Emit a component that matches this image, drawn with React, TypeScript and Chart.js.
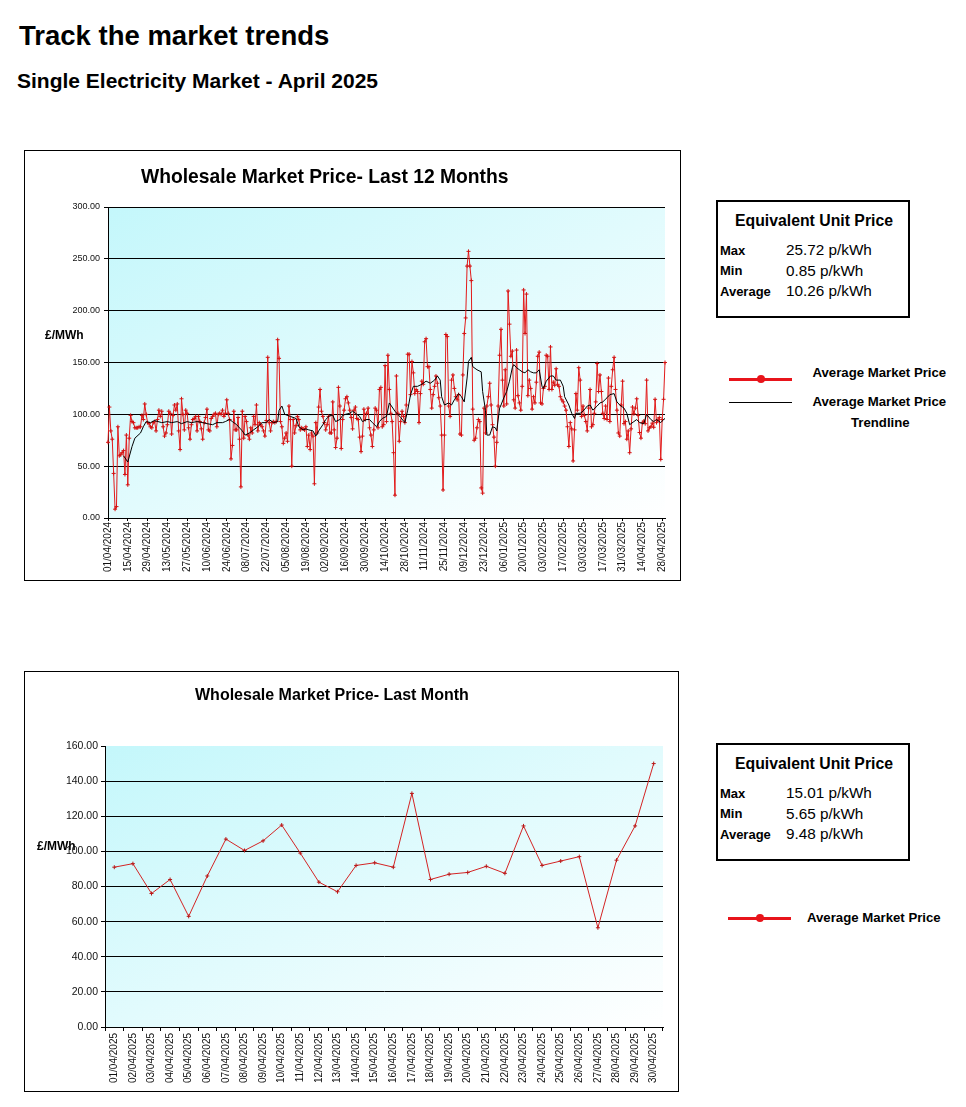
import React, { useEffect, useRef } from 'react';
import { Chart, registerables } from 'chart.js';

Chart.register(...registerables);

const FONT = "'Liberation Sans', Arial, Helvetica, sans-serif";
Chart.defaults.font.family = FONT;

// ---- Daily average market price (£/MWh), 01/04/2024 - 30/04/2025 ----
const apr2024 = [73, 107, 84, 76, 43, 8.5, 11, 88, 60, 61, 63, 65, 42, 80, 32, 77, 99, 93, 92, 87, 87, 87, 88, 88, 99, 95, 110, 100, 92, 91];
const may2024 = [88, 87, 92, 93, 84, 95, 104, 98, 103, 88, 79, 82, 90, 103, 101, 81, 99, 109, 104, 110, 84, 66, 115, 100, 85, 104, 101, 87, 76, 90, 95];
const jun2024 = [96, 98, 84, 98, 93, 86, 76, 92, 97, 105, 85, 84, 96, 98, 100, 101, 88, 100, 101, 100, 104, 98, 101, 114, 101, 95, 57, 70, 103, 85];
const jul2024 = [85, 97, 76, 30, 103, 77, 98, 93, 80, 76, 87, 82, 98, 90, 109, 84, 92, 90, 88, 84, 79, 94, 155, 92, 84, 92, 93, 92, 93, 172, 154];
const aug2024 = [93, 88, 72, 77, 82, 74, 108, 95, 50, 95, 82, 89, 98, 95, 85, 87, 86, 85, 88, 69, 80, 66, 82, 79, 33, 92, 82, 107, 124, 103, 98];
const sep2024 = [92, 85, 90, 98, 82, 82, 112, 85, 68, 77, 126, 108, 67, 95, 104, 115, 117, 111, 104, 97, 86, 104, 107, 96, 95, 78, 64, 79, 105, 95];
const oct2024 = [101, 106, 87, 80, 69, 85, 106, 104, 87, 124, 126, 88, 90, 147, 93, 157, 124, 101, 93, 63, 22, 137, 101, 74, 93, 103, 98, 92, 109, 158, 158];
const nov2024 = [119, 151, 140, 120, 124, 122, 92, 120, 132, 129, 170, 173, 146, 146, 124, 106, 119, 127, 137, 130, 116, 108, 80, 27, 80, 177, 175, 108, 98, 133];
const dec2024 = [138, 125, 117, 114, 119, 81, 80, 138, 178, 193, 243, 257.2, 243, 229, 105, 75, 77, 87, 95, 93, 29, 24, 106, 82, 108, 117, 130, 109, 90, 78, 50];
const jan2025 = [73, 108, 157, 182, 133, 108, 143, 110, 219, 187, 156, 161, 114, 106, 162, 118, 111, 104, 127, 220, 178, 216, 118, 133, 125, 105, 117, 111, 131, 156, 160];
const feb2025 = [111, 110, 125, 127, 157, 156, 124, 165, 124, 131, 128, 144, 129, 127, 117, 114, 112, 108, 104, 88, 69, 92, 86, 55, 85, 120, 104, 145];
const mar2025 = [133, 98, 108, 99, 93, 84, 106, 124, 88, 90, 101, 112, 149, 122, 138, 122, 101, 96, 108, 95, 135, 93, 127, 143, 155, 124, 104, 82, 79, 109, 132];
const apr2025 = [91, 93, 76, 84, 63, 86, 107, 100.5, 106, 115, 99, 82.5, 77, 92, 93.5, 91, 133, 84, 87, 88, 91.5, 87.5, 114.5, 92, 94.5, 97, 56.5, 95, 114.5, 150];

// ---- Trendline ----
const trendDates = [
  '12/04/2024', '15/04/2024', '18/04/2024', '20/04/2024', '24/04/2024', '26/04/2024', '28/04/2024', '01/05/2024', '04/05/2024', '09/05/2024',
  '13/05/2024', '16/05/2024', '20/05/2024', '23/05/2024', '27/05/2024', '30/05/2024', '03/06/2024', '07/06/2024', '10/06/2024', '14/06/2024',
  '17/06/2024', '21/06/2024', '23/06/2024', '26/06/2024', '28/06/2024', '01/07/2024', '05/07/2024', '07/07/2024', '10/07/2024', '12/07/2024',
  '16/07/2024', '19/07/2024', '22/07/2024', '24/07/2024', '27/07/2024', '30/07/2024', '31/07/2024', '02/08/2024', '04/08/2024', '08/08/2024',
  '12/08/2024', '14/08/2024', '17/08/2024', '19/08/2024', '21/08/2024', '24/08/2024', '26/08/2024', '28/08/2024', '31/08/2024', '02/09/2024',
  '05/09/2024', '07/09/2024', '09/09/2024', '12/09/2024', '14/09/2024', '16/09/2024', '19/09/2024', '21/09/2024', '23/09/2024', '26/09/2024',
  '28/09/2024', '01/10/2024', '03/10/2024', '05/10/2024', '08/10/2024', '10/10/2024', '12/10/2024', '15/10/2024', '17/10/2024', '18/10/2024',
  '21/10/2024', '23/10/2024', '25/10/2024', '28/10/2024', '30/10/2024', '01/11/2024', '03/11/2024', '06/11/2024', '09/11/2024', '12/11/2024',
  '15/11/2024', '18/11/2024', '20/11/2024', '22/11/2024', '23/11/2024', '25/11/2024', '28/11/2024', '30/11/2024', '02/12/2024', '05/12/2024',
  '07/12/2024', '09/12/2024', '11/12/2024', '12/12/2024', '14/12/2024', '15/12/2024', '18/12/2024', '21/12/2024', '22/12/2024', '24/12/2024',
  '25/12/2024', '27/12/2024', '29/12/2024', '31/12/2024', '01/01/2025', '03/01/2025', '04/01/2025', '06/01/2025', '08/01/2025', '10/01/2025',
  '12/01/2025', '13/01/2025', '15/01/2025', '17/01/2025', '19/01/2025', '21/01/2025', '23/01/2025', '25/01/2025', '27/01/2025', '29/01/2025',
  '31/01/2025', '02/02/2025', '03/02/2025', '05/02/2025', '08/02/2025', '10/02/2025', '12/02/2025', '15/02/2025', '17/02/2025', '18/02/2025',
  '21/02/2025', '23/02/2025', '25/02/2025', '26/02/2025', '01/03/2025', '03/03/2025', '06/03/2025', '08/03/2025', '10/03/2025', '13/03/2025',
  '15/03/2025', '17/03/2025', '20/03/2025', '22/03/2025', '25/03/2025', '27/03/2025', '29/03/2025', '01/04/2025', '03/04/2025', '05/04/2025',
  '08/04/2025', '10/04/2025', '12/04/2025', '15/04/2025', '17/04/2025', '20/04/2025', '22/04/2025', '24/04/2025', '27/04/2025', '29/04/2025',
  '30/04/2025',
];
const trendValues = [
  60, 54, 69, 77, 82, 88, 93, 92, 94, 92,
  93, 92, 93, 91, 93, 92, 93, 92, 91, 90,
  92, 92, 93, 95, 93, 90, 84, 80, 82, 84,
  88, 92, 92, 95, 92, 93, 104, 108, 100, 98,
  96, 88, 85, 86, 85, 84, 79, 84, 90, 95,
  99, 99, 93, 95, 99, 100, 101, 103, 101, 98,
  93, 95, 95, 92, 88, 93, 96, 98, 111, 109,
  103, 100, 97, 92, 104, 119, 127, 127, 129, 132,
  130, 133, 137, 133, 117, 109, 111, 109, 114, 120,
  117, 112, 135, 151, 155, 146, 143, 141, 122, 104,
  80, 80, 88, 87, 84, 106, 109, 116, 122, 132,
  145, 148, 145, 143, 141, 140, 143, 141, 140, 140,
  143, 127, 125, 132, 137, 137, 133, 133, 127, 117,
  109, 101, 96, 101, 101, 103, 108, 109, 104, 108,
  111, 112, 116, 119, 120, 112, 109, 106, 101, 90,
  93, 95, 92, 91, 100, 95, 93, 95, 92, 95,
  96,
];

// ---- Last month (April 2025) ----
const monthValues = [91, 93, 76, 84, 63, 86, 107, 100.5, 106, 115, 99, 82.5, 77, 92, 93.5, 91, 133, 84, 87, 88, 91.5, 87.5, 114.5, 92, 94.5, 97, 56.5, 95, 114.5, 150];

const yearValues = [
  ...apr2024, ...may2024, ...jun2024, ...jul2024, ...aug2024, ...sep2024, ...oct2024,
  ...nov2024, ...dec2024, ...jan2025, ...feb2025, ...mar2025, ...apr2025,
];

const pad = (n: number) => String(n).padStart(2, '0');
const dateLabels = yearValues.map((_, i) => {
  const d = new Date(2024, 3, 1 + i);
  return `${pad(d.getDate())}/${pad(d.getMonth() + 1)}/${d.getFullYear()}`;
});
const monthLabels = monthValues.map((_, i) => `${pad(i + 1)}/04/2025`);

const trendSeries: (number | null)[] = dateLabels.map(() => null);
trendDates.forEach((d, i) => {
  const k = dateLabels.indexOf(d);
  if (k >= 0) trendSeries[k] = trendValues[i];
});

const plotBg = {
  id: 'plotBg',
  beforeDraw(chart: any) {
    const { ctx, chartArea: a } = chart;
    if (!a) return;
    const w = a.right - a.left;
    const h = a.bottom - a.top;
    const s = (2 * w * h) / (w * w + h * h);
    const g = ctx.createLinearGradient(a.left, a.top, a.left + h * s, a.top + w * s);
    g.addColorStop(0, '#c4f7fb');
    g.addColorStop(1, '#ffffff');
    ctx.save();
    ctx.fillStyle = g;
    ctx.fillRect(a.left, a.top, w, h);
    ctx.restore();
  },
};

function Txt({ x, b, size, bold = false, children }: any) {
  return (
    <div
      style={{
        position: 'absolute',
        left: x,
        top: b - 0.8465 * size,
        fontSize: size,
        lineHeight: `${size}px`,
        fontWeight: bold ? 700 : 400,
        fontFamily: FONT,
        whiteSpace: 'nowrap',
        color: '#000',
      }}
    >
      {children}
    </div>
  );
}

function InfoBox({ top, max, min, avg }: any) {
  return (
    <>
      <div
        style={{
          position: 'absolute',
          left: 716,
          top,
          width: 194,
          height: 118,
          border: '2px solid #000',
          boxSizing: 'border-box',
          background: '#fff',
        }}
      />
      <Txt x={735} b={top + 26} size={15.8} bold>Equivalent Unit Price</Txt>
      <Txt x={720} b={top + 55} size={13} bold>Max</Txt>
      <Txt x={786} b={top + 55} size={15.3}>{max}</Txt>
      <Txt x={720} b={top + 75.5} size={13} bold>Min</Txt>
      <Txt x={786} b={top + 75.5} size={15.3}>{min}</Txt>
      <Txt x={720} b={top + 96} size={13} bold>Average</Txt>
      <Txt x={786} b={top + 96} size={15.3}>{avg}</Txt>
    </>
  );
}

function RedKey({ x, y }: any) {
  return (
    <>
      <div style={{ position: 'absolute', left: x, top: y - 1.5, width: 63, height: 3, background: '#e8141b' }} />
      <div style={{ position: 'absolute', left: x + 27.5, top: y - 4, width: 8, height: 8, borderRadius: '50%', background: '#e8141b' }} />
    </>
  );
}

export default function App() {
  const topRef = useRef<HTMLCanvasElement>(null);
  const botRef = useRef<HTMLCanvasElement>(null);

  useEffect(() => {
    const tickFont9 = { size: 9, family: FONT };
    const top = new Chart(topRef.current as HTMLCanvasElement, {
      type: 'line',
      data: {
        labels: dateLabels,
        datasets: [
          {
            label: 'Average Market Price',
            data: yearValues,
            borderColor: '#e31b1b',
            borderWidth: 1,
            pointStyle: 'cross',
            pointRadius: 2,
            pointBorderColor: '#d41212',
            pointBorderWidth: 1,
            tension: 0,
            order: 2,
          },
          {
            label: 'Average Market Price Trendline',
            data: trendSeries,
            borderColor: '#000',
            borderWidth: 1,
            pointRadius: 0,
            spanGaps: true,
            tension: 0,
            order: 1,
          },
        ],
      },
      options: {
        responsive: false,
        animation: false,
        layout: { padding: { top: 56, right: 14, left: 0, bottom: 0 } },
        plugins: { legend: { display: false }, tooltip: { enabled: false }, title: { display: false } },
        scales: {
          x: {
            type: 'category',
            offset: false,
            grid: { drawOnChartArea: false, drawTicks: true, tickLength: 3, color: '#000' },
            border: { display: true, color: '#000' },
            ticks: { autoSkip: false, minRotation: 90, maxRotation: 90, padding: 1, font: { size: 10, family: FONT }, color: '#111' },
            afterBuildTicks: (axis: any) => {
              axis.ticks = axis.ticks.filter((t: any) => t.value % 14 === 0);
            },
            afterFit: (axis: any) => {
              axis.height = 61;
            },
          },
          y: {
            min: 0,
            max: 300,
            ticks: { stepSize: 50, callback: (v: any) => Number(v).toFixed(2), font: tickFont9, color: '#111', padding: 4 },
            grid: { color: '#000', tickLength: 4 },
            border: { display: true, color: '#000' },
            afterFit: (axis: any) => {
              axis.width = 83;
            },
          },
        },
      },
      plugins: [plotBg],
    } as any);

    const bottom = new Chart(botRef.current as HTMLCanvasElement, {
      type: 'line',
      data: {
        labels: monthLabels,
        datasets: [
          {
            label: 'Average Market Price',
            data: monthValues,
            borderColor: '#d42424',
            borderWidth: 1,
            pointStyle: 'cross',
            pointRadius: 2,
            pointBorderColor: '#b81818',
            pointBorderWidth: 1,
            tension: 0,
          },
        ],
      },
      options: {
        responsive: false,
        animation: false,
        layout: { padding: { top: 74, right: 15, left: 0, bottom: 0 } },
        plugins: { legend: { display: false }, tooltip: { enabled: false }, title: { display: false } },
        scales: {
          x: {
            type: 'category',
            offset: true,
            grid: { offset: true, drawOnChartArea: false, drawTicks: true, tickLength: 4, color: '#000' },
            border: { display: true, color: '#000' },
            ticks: { autoSkip: false, minRotation: 90, maxRotation: 90, padding: 2, font: { size: 10, family: FONT }, color: '#111' },
            afterFit: (axis: any) => {
              axis.height = 64;
            },
          },
          y: {
            min: 0,
            max: 160,
            ticks: { stepSize: 20, callback: (v: any) => Number(v).toFixed(2), font: { size: 10.5, family: FONT }, color: '#111', padding: 3 },
            grid: {
              color: (ctx: any) => (ctx.tick && ctx.tick.value === 160 ? 'rgba(0,0,0,0)' : '#000'),
              tickColor: '#000',
              tickLength: 4,
            },
            border: { display: true, color: '#000' },
            afterFit: (axis: any) => {
              axis.width = 80;
            },
          },
        },
      },
      plugins: [plotBg],
    } as any);

    return () => {
      top.destroy();
      bottom.destroy();
    };
  }, []);

  return (
    <div style={{ position: 'absolute', left: 0, top: 0, width: 966, height: 1107, background: '#fff', fontFamily: FONT }}>
      <Txt x={19} b={45} size={27.5} bold>Track the market trends</Txt>
      <Txt x={17} b={88} size={21} bold>Single Electricity Market - April 2025</Txt>

      {/* 12-month chart */}
      <div style={{ position: 'absolute', left: 24, top: 150, width: 657, height: 431, border: '1px solid #000', boxSizing: 'border-box' }} />
      <canvas ref={topRef} width={654} height={428} style={{ position: 'absolute', left: 25, top: 151, width: 654, height: 428 }} />
      <Txt x={141} b={183} size={19.3} bold>Wholesale Market Price- Last 12 Months</Txt>
      <Txt x={45} b={339} size={12} bold>£/MWh</Txt>

      <InfoBox top={200} max="25.72 p/kWh" min="0.85 p/kWh" avg="10.26 p/kWh" />
      <RedKey x={729} y={379} />
      <Txt x={812.5} b={377.5} size={13.2} bold>Average Market Price</Txt>
      <div style={{ position: 'absolute', left: 729, top: 402, width: 63, height: 1, background: '#000' }} />
      <Txt x={812.5} b={406.5} size={13.2} bold>Average Market Price</Txt>
      <Txt x={851} b={427.5} size={13.2} bold>Trendline</Txt>

      {/* Last month chart */}
      <div style={{ position: 'absolute', left: 24, top: 671, width: 655, height: 421, border: '1px solid #000', boxSizing: 'border-box' }} />
      <canvas ref={botRef} width={653} height={419} style={{ position: 'absolute', left: 25, top: 672, width: 653, height: 419 }} />
      <Txt x={195} b={700.5} size={16} bold>Wholesale Market Price- Last Month</Txt>
      <Txt x={37} b={850} size={12} bold>£/MWh</Txt>

      <InfoBox top={743} max="15.01 p/kWh" min="5.65 p/kWh" avg="9.48 p/kWh" />
      <RedKey x={728} y={918} />
      <Txt x={807} b={922.5} size={13.2} bold>Average Market Price</Txt>
    </div>
  );
}
